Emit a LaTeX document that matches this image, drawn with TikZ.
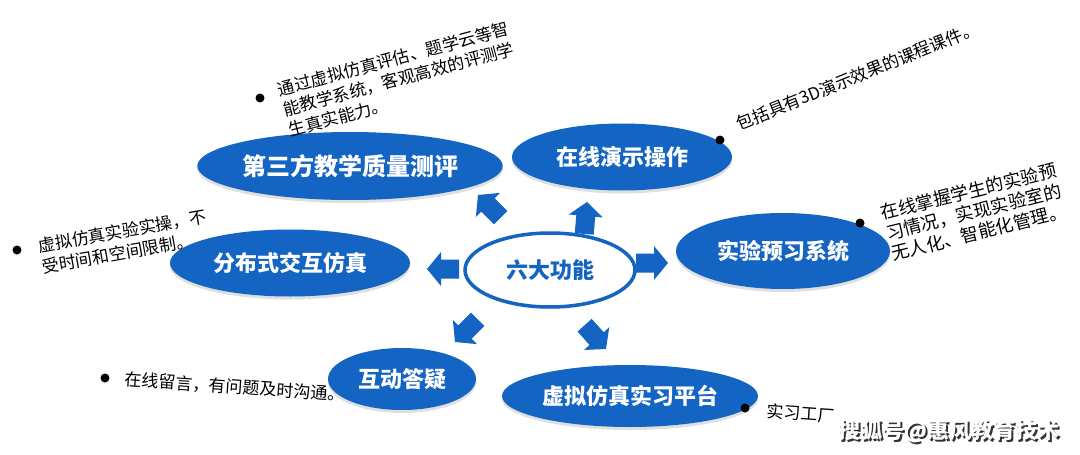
\documentclass[tikz,border=0pt]{standalone}
\usepackage{fontspec}
\setmainfont{Noto Sans CJK SC}
\usetikzlibrary{shapes.geometric,shadows}
\definecolor{mblue}{RGB}{20,100,195}
\begin{document}
\begin{tikzpicture}[x=1pt,y=-1pt,
  func/.style={ellipse, fill=mblue, text=white, inner sep=0pt,
    font=\bfseries\fontsize{22}{24}\selectfont,
    drop shadow={opacity=0.25, shadow xshift=0pt, shadow yshift=-3pt}},
  hub/.style={ellipse, draw=mblue, line width=3.5pt, fill=white, text=mblue, inner sep=0pt,
    font=\bfseries\fontsize{22}{24}\selectfont,
    drop shadow={opacity=0.2, shadow xshift=0pt, shadow yshift=-2pt}},
  blockarr/.pic={\fill[mblue] (0,0) -- (-14,-17) -- (-14,-9.5) -- (-32,-9.5) -- (-32,9.5) -- (-14,9.5) -- (-14,17) -- cycle;},
  bul/.style={circle, fill=black, inner sep=0pt, minimum size=9pt},
  note/.style={font=\fontsize{17}{21}\selectfont, align=left, inner sep=0pt, anchor=north west, text=black},
]
\useasboundingbox (0,0) rectangle (1080,455);
\fill[white] (0,0) rectangle (1080,455);

% functional ellipses
\node[func, minimum width=290pt, minimum height=68pt, font=\bfseries\fontsize{24}{26}\selectfont] (eval) at (350,166) {第三方教学质量测评};
\node[func, minimum width=220pt, minimum height=67pt] (demo) at (622,157) {在线演示操作};
\node[func, minimum width=214pt, minimum height=76pt] (prev) at (783,251) {实验预习系统};
\node[func, minimum width=240pt, minimum height=67pt] (dist) at (290,263) {分布式交互仿真};
\node[func, minimum width=148pt, minimum height=62pt] (qa) at (402,379) {互动答疑};
\node[func, minimum width=256pt, minimum height=62pt] (plat) at (630,396) {虚拟仿真实习平台};

% hub
\node[hub, minimum width=170pt, minimum height=74pt] (hub) at (550,270) {六大功能};

% block arrows (tips)
\coordinate (a1) at (478,195);
\coordinate (a2) at (587,202);
\coordinate (a3) at (668,263);
\coordinate (a4) at (427,269);
\coordinate (a5) at (455,342);
\coordinate (a6) at (606,349);
\pic[rotate=135] at (a1) {blockarr};
\pic[rotate=85] at (a2) {blockarr};
\pic[rotate=0] at (a3) {blockarr};
\pic[rotate=180] at (a4) {blockarr};
\pic[rotate=225] at (a5) {blockarr};
\pic[rotate=-48] at (a6) {blockarr};

% bullets
\node[bul] (b1) at (260,98) {};
\node[bul] (b2) at (720,140) {};
\node[bul] (b3) at (860,223) {};
\node[bul] (b4) at (17,250) {};
\node[bul] (b5) at (105,378) {};
\node[bul] (b6) at (745,408) {};

% notes
\node[note, rotate=15] (t1) at (276,82) {通过虚拟仿真评估、题学云等智\\能教学系统，客观高效的评测学\\生真实能力。};
\node[note, rotate=22] (t2) at (734,117) {包括具有3D演示效果的课程课件。};
\node[note, rotate=14, font=\fontsize{18}{21}\selectfont] (t3) at (879,205) {在线掌握学生的实验预\\习情况，实现实验室的\\无人化、智能化管理。};
\node[note, rotate=10] (t4) at (37,238) {虚拟仿真实验实操，不\\受时间和空间限制。};
\node[note, rotate=-4] (t5) at (125,371) {在线留言，有问题及时沟通。};
\node[note, rotate=-4] (t6) at (767,403) {实习工厂};

% watermark
\node[font=\bfseries\fontsize{22}{24}\selectfont, text=black!80, inner sep=0pt] (wms) at (950.8,432.8) {搜狐号@惠风教育技术};
\node[font=\bfseries\fontsize{22}{24}\selectfont, text=white, inner sep=0pt] (wm) at (949,431) {搜狐号@惠风教育技术};
\end{tikzpicture}
\end{document}
